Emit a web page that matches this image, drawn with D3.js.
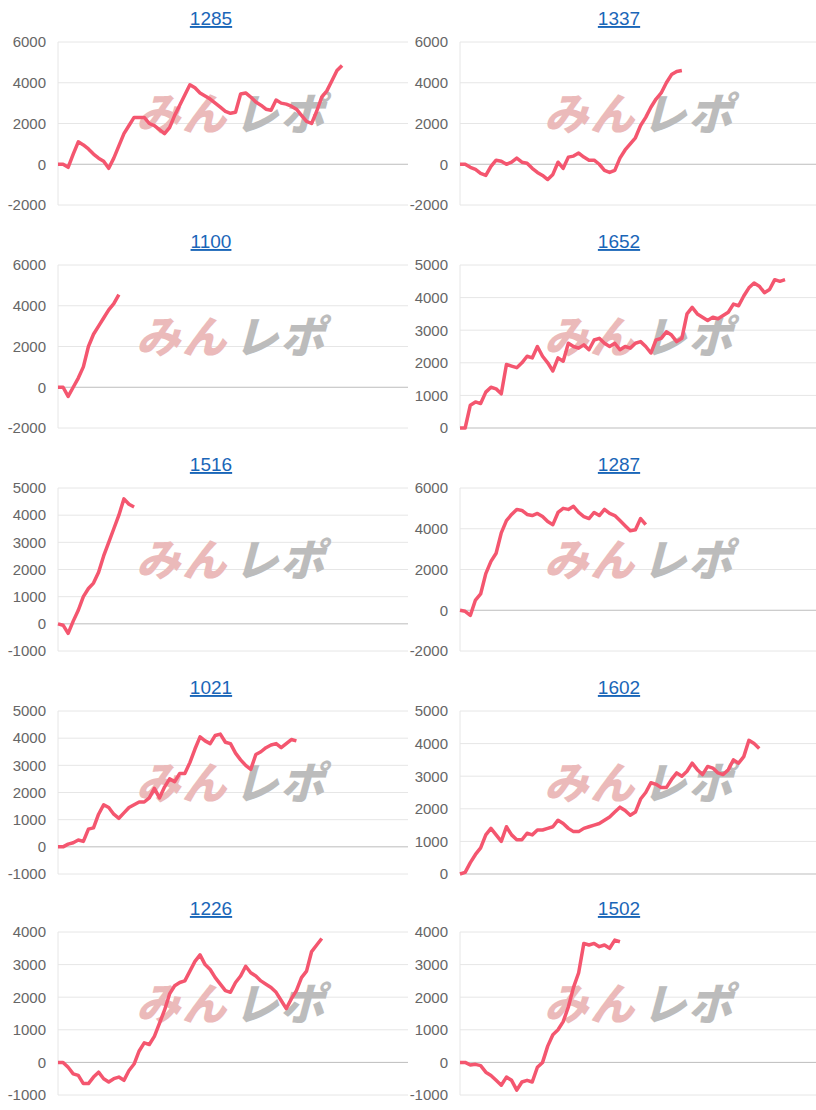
<!DOCTYPE html>
<html>
<head>
<meta charset="utf-8">
<script src="https://cdn.jsdelivr.net/npm/d3@7"></script>
<style>
  body { margin: 0; background: #fff; }
  svg { display: block; font-family: "Liberation Sans", Arial, sans-serif; }
</style>
</head>
<body>
<div id="chart"></div>
<script>
var slots = 70; // shared x categories for every panel

var titles = ["1285", "1337", "1100", "1652", "1516", "1287", "1021", "1602", "1226", "1502"];

var domains = [[-2000, 6000], [-2000, 6000], [-2000, 6000], [0, 5000], [-1000, 5000],
               [-2000, 6000], [-1000, 5000], [0, 5000], [-1000, 4000], [-1000, 4000]];

var s1285 = [0,0,-150,500,1100,950,750,500,300,150,-200,300,900,1500,1900,2300,2300,2300,2000,1900,1700,1500,1800,2400,2900,3400,3900,3750,3500,3350,3200,3000,2800,2600,2500,2550,3450,3500,3300,3050,2900,2700,2650,3150,3000,2950,2850,2700,2400,2100,2000,2600,3300,3600,4100,4600,4850];
var s1337 = [0,0,-150,-250,-450,-550,-100,200,150,0,100,300,100,50,-200,-400,-550,-750,-500,100,-200,350,400,550,350,200,200,0,-300,-400,-300,300,700,1000,1300,1900,2300,2800,3200,3500,4000,4400,4550,4600];
var s1100 = [0,0,-450,0,450,1000,2000,2600,3000,3400,3800,4100,4550];
var s1652 = [0,0,700,800,750,1100,1250,1200,1050,1950,1900,1850,2000,2200,2150,2500,2200,2000,1750,2150,2050,2600,2500,2450,2550,2400,2700,2750,2600,2500,2600,2400,2500,2450,2600,2650,2500,2300,2700,2750,2950,2850,2650,2750,3500,3700,3500,3400,3300,3400,3350,3450,3550,3800,3750,4050,4300,4450,4350,4150,4250,4550,4500,4550];
var s1516 = [0,-50,-350,100,500,1000,1300,1500,1900,2500,3000,3500,4000,4600,4400,4300];
var s1287 = [0,-50,-250,500,800,1800,2400,2800,3800,4400,4700,4950,4900,4700,4650,4750,4600,4350,4200,4800,5000,4950,5100,4800,4600,4500,4800,4650,4950,4750,4650,4400,4150,3900,3950,4500,4200];
var s1021 = [0,0,100,150,250,200,650,700,1200,1550,1450,1200,1050,1250,1450,1550,1650,1650,1800,2150,1800,2200,2500,2400,2700,2700,3100,3600,4050,3900,3800,4100,4150,3850,3800,3450,3200,3000,2850,3400,3500,3650,3750,3800,3650,3800,3950,3900];
var s1602 = [0,50,350,600,800,1200,1400,1200,1000,1450,1200,1050,1050,1250,1200,1350,1350,1400,1450,1650,1550,1400,1300,1300,1400,1450,1500,1550,1650,1750,1900,2050,1950,1800,1900,2300,2500,2800,2750,2650,2650,2900,3100,3000,3150,3400,3200,3050,3300,3250,3100,3050,3200,3500,3400,3600,4100,4000,3850];
var s1226 = [0,0,-150,-350,-400,-650,-650,-450,-300,-500,-600,-500,-450,-550,-250,-50,350,600,550,800,1200,1600,2100,2350,2450,2500,2800,3100,3300,3000,2850,2600,2400,2200,2150,2450,2650,2950,2750,2650,2500,2400,2300,2150,1900,1650,1950,2200,2600,2800,3400,3600,3800];
var s1502 = [0,0,-80,-60,-100,-300,-400,-550,-700,-450,-550,-850,-600,-550,-600,-150,0,500,850,1000,1250,1700,2300,2750,3650,3600,3650,3550,3600,3500,3750,3700];

var series = [s1285, s1337, s1100, s1652, s1516, s1287, s1021, s1602, s1226, s1502];

var W = 816, H = 1110;
var rowTops = [0, 223, 446, 669, 890];

var svg = d3.select("#chart").append("svg")
  .attr("width", W)
  .attr("height", H);

titles.forEach(function(title, i){
  var col = i % 2, row = Math.floor(i / 2);
  var colX = col * 408;
  var top = rowTops[row];
  var left = col == 0 ? 58 : 460; // plot left edge
  var right = colX + 408;
  var plotTop = top + 42, plotBottom = top + 205;

  var x = d3.scaleLinear().domain([0, slots - 1]).range([left, right]);
  var y = d3.scaleLinear().domain(domains[i]).range([plotBottom, plotTop]);
  var step = (domains[i][1] - domains[i][0]) > 6000 ? 2000 : 1000;
  var ticks = d3.range(domains[i][0], domains[i][1] + 1, step);

  var g = svg.append("g").attr("class", "panel");

  g.append("text")
    .attr("x", colX + 211)
    .attr("y", top + 25)
    .attr("text-anchor", "middle")
    .style("font-size", "19px")
    .style("fill", "#1a66b8")
    .style("text-decoration", "underline")
    .text(title);

  // grid lines
  g.selectAll(".grid")
    .data(ticks)
    .enter()
    .append("line")
    .attr("x1", left)
    .attr("x2", right)
    .attr("y1", function(d){ return y(d); })
    .attr("y2", function(d){ return y(d); })
    .style("stroke", function(d){ return d === 0 ? "#bdbdbd" : "#e6e6e6"; })
    .style("stroke-width", 1);

  g.append("line")
    .attr("x1", left).attr("x2", left)
    .attr("y1", plotTop).attr("y2", plotBottom)
    .style("stroke", "#e6e6e6");

  // y axis labels
  var yAxis = d3.axisLeft(y).tickValues(ticks).tickSize(0).tickPadding(12)
    .tickFormat(function(d){ return String(d); });
  var ax = g.append("g").attr("transform", "translate(" + left + ",0)").call(yAxis);
  ax.select(".domain").remove();
  ax.selectAll("text").style("font-size", "15px").style("fill", "#666")
    .style("font-family", "'Liberation Sans', Arial, sans-serif");

  // watermark
  var wm = g.append("text")
    .attr("transform", "translate(" + (colX + 136) + "," + (plotTop + 88) + ") skewX(-15)")
    .style("font-family", "'Noto Sans CJK JP', sans-serif")
    .style("font-weight", "900")
    .style("font-size", "44px")
    .style("letter-spacing", "2px");
  wm.append("tspan").style("fill", "#ebbaba").text("みん");
  wm.append("tspan").attr("dx", "6").style("fill", "#bcbcbc").text("レポ");

  var line = d3.line()
    .x(function(d, k){ return x(k); })
    .y(function(d){ return y(d); });

  g.append("path")
    .datum(series[i])
    .attr("d", line)
    .style("fill", "none")
    .style("stroke", "#f4566f")
    .style("stroke-width", 3.5)
    .style("stroke-linejoin", "round");
});
</script>
</body>
</html>
